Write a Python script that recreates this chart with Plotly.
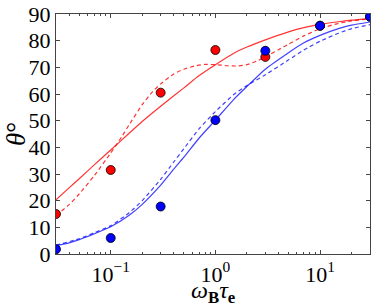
import plotly.graph_objects as go
import numpy as np

# measured points
x_pts = [0.03, 0.1, 0.3, 1.0, 3.0, 10.0, 30.0]
red_pts = [15.0, 31.5, 60.5, 76.5, 73.9, 85.6, 89.0]
blue_pts = [1.8, 6.0, 17.8, 50.2, 76.2, 85.6, 89.0]

# model curves
red_solid_x = [0.03, 0.04, 0.05, 0.07, 0.1, 0.15, 0.2, 0.3, 0.5, 0.7, 1.0, 1.5, 2.0, 3.0, 5.0, 7.0, 10.0, 15.0, 20.0, 30.0]
red_solid_y = [20.3, 24.8, 28.2, 33.5, 39.0, 45.3, 49.7, 55.4, 62.3, 66.9, 71.0, 75.3, 77.6, 80.3, 83.3, 84.9, 86.1, 87.1, 87.7, 88.3]

red_dash_x = [0.03, 0.04, 0.05, 0.07, 0.1, 0.13, 0.15, 0.2, 0.25, 0.3, 0.4, 0.5, 0.65, 0.8, 1.0, 1.3, 1.6, 2.0, 2.5, 3.0, 4.0, 5.0, 7.0, 10.0, 15.0, 20.0, 30.0]
red_dash_y = [14.5, 18.5, 22.5, 29.5, 37.9, 44.5, 48.5, 56.0, 60.8, 63.8, 67.5, 69.3, 70.6, 71.1, 71.0, 70.6, 70.5, 71.0, 72.4, 73.9, 76.6, 78.7, 81.8, 84.5, 86.5, 87.4, 88.2]

blue_solid_x = [0.03, 0.04, 0.05, 0.07, 0.1, 0.15, 0.2, 0.3, 0.4, 0.5, 0.7, 1.0, 1.5, 2.0, 3.0, 5.0, 7.0, 10.0, 15.0, 20.0, 30.0]
blue_solid_y = [3.1, 4.2, 5.4, 7.6, 10.2, 14.5, 18.6, 25.8, 31.8, 36.3, 43.5, 50.2, 58.0, 62.8, 69.3, 75.5, 79.2, 82.0, 84.5, 85.8, 87.0]

blue_dash_x = [0.03, 0.05, 0.07, 0.1, 0.15, 0.2, 0.3, 0.4, 0.5, 0.7, 1.0, 1.5, 2.0, 3.0, 5.0, 7.0, 10.0, 15.0, 20.0, 30.0]
blue_dash_y = [3.3, 5.7, 8.0, 10.6, 15.5, 20.0, 28.0, 34.5, 39.5, 47.0, 53.4, 59.8, 63.2, 67.2, 72.8, 76.5, 79.8, 82.8, 84.5, 86.0]

y_ticks = [0, 10, 20, 30, 40, 50, 60, 70, 80, 90]
x_ticks = [0.1, 1, 10]
x_ticktext = ["10<sup>−1</sup>", "10<sup>0</sup>", "10<sup>1</sup>"]

RED = "#ff0000"
BLUE = "#0000ff"
RED_L = "rgba(255,0,0,0.8)"
BLUE_L = "rgba(0,0,255,0.75)"

fig = go.Figure()
fig.add_trace(go.Scatter(x=red_solid_x, y=red_solid_y, mode="lines",
                         line=dict(color=RED_L, width=1.2, shape="spline", smoothing=0.5)))
fig.add_trace(go.Scatter(x=red_dash_x, y=red_dash_y, mode="lines",
                         line=dict(color=RED_L, width=1.2, dash="4px,3px", shape="spline", smoothing=0.5)))
fig.add_trace(go.Scatter(x=blue_solid_x, y=blue_solid_y, mode="lines",
                         line=dict(color=BLUE_L, width=1.2, shape="spline", smoothing=0.5)))
fig.add_trace(go.Scatter(x=blue_dash_x, y=blue_dash_y, mode="lines",
                         line=dict(color=BLUE_L, width=1.2, dash="4px,3px", shape="spline", smoothing=0.5)))
fig.add_trace(go.Scatter(x=x_pts, y=red_pts, mode="markers",
                         marker=dict(color=RED, size=9, line=dict(color="black", width=0.8))))
fig.add_trace(go.Scatter(x=x_pts, y=blue_pts, mode="markers",
                         marker=dict(color=BLUE, size=9, line=dict(color="black", width=0.8))))

minor_vals = []
for d in [0.01, 0.1, 1, 10]:
    for k in range(2, 10):
        v = d * k
        if 0.03 <= v <= 30 and v not in (0.1, 1, 10):
            minor_vals.append(v)

FAM = "Liberation Serif"
font = dict(family=FAM, size=22, color="black")

fig.update_layout(
    width=374, height=306,
    margin=dict(l=56, r=4, t=14, b=52),
    paper_bgcolor="white", plot_bgcolor="white",
    showlegend=False,
    font=font,
)
fig.update_xaxes(
    type="log", range=[np.log10(0.03), np.log10(30)], automargin=False,
    tickmode="array", tickvals=x_ticks, ticktext=x_ticktext,
    ticks="inside", ticklen=4, tickwidth=1, tickcolor="#444",
    showline=True, linecolor="#444", linewidth=1.2, mirror="allticks",
    showgrid=False, zeroline=False, tickfont=font,
    minor=dict(ticks="inside", ticklen=2, tickcolor="#444", tickmode="array",
               tickvals=minor_vals, showgrid=False),
)
fig.update_yaxes(
    range=[0, 90], tickmode="array", tickvals=y_ticks, automargin=False,
    ticks="inside", ticklen=4, tickwidth=1, tickcolor="#444",
    showline=True, linecolor="#444", linewidth=1.2, mirror="allticks",
    showgrid=False, zeroline=False, tickfont=font,
)
fig.add_annotation(xref="paper", yref="paper", x=0, y=0.5, xshift=-40,
                   text="<i>θ</i>°", showarrow=False, textangle=-90,
                   font=dict(family=FAM, size=27, color="black"),
                   xanchor="center", yanchor="middle")
fig.add_annotation(xref="paper", yref="paper", x=0.5, y=0, yshift=-38,
                   text="<i>ω</i><sub><b>B</b></sub><i>τ</i><sub><b>e</b></sub>",
                   showarrow=False,
                   font=dict(family=FAM, size=24, color="black"),
                   xanchor="center", yanchor="middle")

fig.write_html("out.html", config={"displayModeBar": False},
               post_script="document.body.style.margin='0px';")
